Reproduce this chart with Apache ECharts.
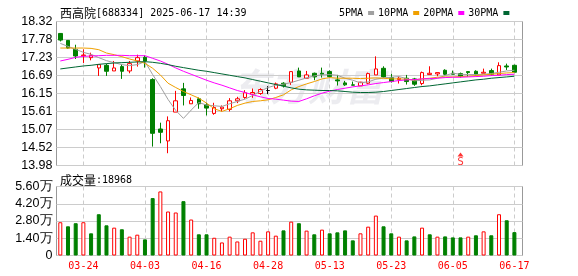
<!DOCTYPE html>
<html><head><meta charset="utf-8">
<script src="https://cdn.jsdelivr.net/npm/echarts@6/dist/echarts.min.js"></script>
<style>html,body{margin:0;padding:0;background:#fff}#c{width:578px;height:276px}</style>
</head><body><div id="c"></div>
<script>
const stockName = '西高院', stockCode = '688334', stamp = '2025-06-17 14:39';
const dates = ['03-19','03-20','03-21','03-24','03-25','03-26','03-27','03-28','03-31','04-01','04-02','04-03',
 '04-07','04-08','04-09','04-10','04-11','04-14','04-15','04-16','04-17','04-18','04-21','04-22','04-23','04-24','04-25','04-28',
 '04-29','04-30','05-06','05-07','05-08','05-09','05-12','05-13','05-14','05-15','05-16','05-19','05-20','05-21','05-22','05-23',
 '05-26','05-27','05-28','05-29','05-30','06-03','06-04','06-05','06-06','06-09','06-10','06-11','06-12','06-13','06-16','06-17'];
const open  = [17.96,17.75,17.48,17.29,17.23,16.92,17.00,16.83,16.96,16.83,17.13,17.24,16.57,15.08,14.72,15.59,16.29,15.84,15.99,15.81,
 15.55,15.69,15.67,15.93,16.03,16.13,16.15,16.24,16.31,16.46,16.49,16.83,16.61,16.76,16.76,16.81,16.56,16.47,16.41,16.38,
 16.46,16.71,16.91,16.63,16.57,16.61,16.59,16.45,16.72,16.74,16.85,16.76,16.75,16.81,16.82,16.76,16.84,16.71,16.98,17.00];
const close = [17.76,17.52,17.28,17.31,17.30,17.02,16.82,16.92,16.82,17.05,17.23,17.13,14.95,14.98,15.33,15.93,16.09,15.94,15.84,15.71,
 15.73,15.74,15.93,15.99,16.17,16.18,16.27,16.24,16.44,16.38,16.81,16.65,16.71,16.65,16.73,16.66,16.53,16.41,16.40,16.49,
 16.75,16.89,16.65,16.51,16.61,16.51,16.43,16.78,16.76,16.78,16.73,16.73,16.67,16.78,16.71,16.79,16.73,16.99,16.95,16.79];
const low   = [17.72,17.50,17.19,17.07,17.15,16.68,16.68,16.83,16.59,16.76,16.96,16.93,14.55,14.65,14.35,15.59,15.79,15.84,15.69,15.49,
 15.51,15.61,15.61,15.86,15.99,16.02,16.11,16.13,16.28,16.33,16.41,16.65,16.61,16.55,16.63,16.63,16.39,16.38,16.39,16.38,
 16.43,16.71,16.63,16.48,16.45,16.42,16.38,16.40,16.72,16.67,16.70,16.73,16.63,16.65,16.69,16.76,16.69,16.71,16.86,16.79];
const high  = [17.97,17.76,17.62,17.48,17.38,17.02,17.05,17.13,17.03,17.13,17.32,17.30,16.61,15.27,15.46,16.23,16.47,16.03,16.03,15.87,
 15.87,15.79,16.01,16.05,16.25,16.30,16.31,16.37,16.48,16.49,16.81,16.93,16.83,16.78,16.93,16.85,16.71,16.53,16.51,16.50,
 16.78,17.27,16.97,16.74,16.66,16.71,16.62,16.81,16.97,16.78,16.88,16.84,16.78,16.81,16.85,16.90,16.90,17.09,17.05,17.02];
const ma5  = [17.66,17.57,17.48,17.39,17.33,17.23,17.14,17.08,17.02,16.99,17.02,17.11,16.72,16.36,15.97,15.64,15.40,15.65,15.88,15.80,
 15.78,15.76,15.84,15.91,15.98,16.09,16.22,16.33,16.40,16.43,16.48,16.55,16.62,16.68,16.71,16.72,16.70,16.61,16.55,16.47,
 16.50,16.58,16.62,16.64,16.66,16.60,16.53,16.55,16.56,16.61,16.69,16.76,16.73,16.72,16.72,16.73,16.75,16.79,16.83,16.85];
const ma10 = [17.52,17.52,17.52,17.52,17.51,17.47,17.37,17.32,17.26,17.19,17.13,17.06,16.91,16.71,16.46,16.33,16.21,16.11,16.01,15.86,
 15.69,15.61,15.69,15.79,15.86,15.91,15.93,15.96,16.03,16.11,16.26,16.36,16.44,16.51,16.59,16.63,16.61,16.61,16.61,16.60,
 16.61,16.62,16.61,16.59,16.59,16.58,16.56,16.59,16.61,16.64,16.65,16.65,16.66,16.67,16.69,16.71,16.73,16.75,16.77,16.78];
const ma20 = [17.13,17.18,17.24,17.27,17.28,17.29,17.30,17.30,17.30,17.29,17.29,17.29,17.21,17.13,17.03,16.92,16.82,16.73,16.64,16.55,
 16.47,16.40,16.32,16.24,16.18,16.11,16.05,16.00,15.98,15.95,15.92,15.91,15.99,16.08,16.16,16.22,16.27,16.31,16.35,16.38,
 16.41,16.45,16.48,16.51,16.54,16.56,16.57,16.59,16.60,16.61,16.63,16.64,16.64,16.65,16.66,16.67,16.69,16.70,16.72,16.73];
const ma30 = [16.89,16.92,16.95,16.98,17.00,17.03,17.05,17.07,17.08,17.09,17.10,17.11,17.09,17.06,17.02,16.97,16.93,16.89,16.85,16.82,
 16.78,16.74,16.70,16.66,16.62,16.57,16.52,16.47,16.42,16.37,16.32,16.28,16.26,16.25,16.24,16.24,16.23,16.21,16.19,16.18,
 16.18,16.19,16.21,16.24,16.27,16.30,16.33,16.36,16.38,16.41,16.44,16.47,16.50,16.53,16.56,16.58,16.61,16.63,16.65,16.67];
const volume = [27000,23700,26200,27000,18000,33500,24500,22600,21300,15300,16900,13100,46600,52000,35700,34900,44100,29200,17200,17200,
 14400,10600,15300,11400,13600,18800,12000,19600,16100,20400,27500,26200,20200,17200,21000,18000,18800,20400,12300,18000,
 23400,32400,23700,18000,15300,12300,15500,22600,17200,15300,15500,14700,14700,15300,16400,19600,16400,33500,28600,18968];
const volUp = [1,0,0,1,0,0,0,1,0,1,1,0,0,1,1,1,0,1,0,0,1,1,1,1,1,1,1,1,1,0,1,0,1,0,1,0,0,0,0,1,1,1,0,0,1,0,0,1,0,1,0,0,0,1,0,1,0,1,0,0];
const maNames = ['5PMA','10PMA','20PMA','30PMA'];
const priceTicks = ['13.98','14.52','15.07','15.61','16.15','16.69','17.23','17.78','18.32'];
const volTicks = ['0','1.40万','2.80万','4.20万','5.60万'];
const xTickDates = ['03-24','04-03','04-16','04-28','05-13','05-23','06-05','06-17'];
const markers = [{date:'06-06', text:'S'}];
const priceMin = 13.98, priceMax = 18.32, volMax = 56000;

const RED = '#ff0000', GREEN = '#008000', GRID = '#cccccc', FRAME = '#999999';
const maColors = ['#a0a0a0', '#f0a000', '#ff00ff', '#006633'];
const priceStep = (priceMax - priceMin) / (priceTicks.length - 1);
const volStep = volMax / (volTicks.length - 1);

const chart = echarts.init(document.getElementById('c'), null, {renderer: 'canvas'});
const candleData = dates.map((d, i) => {
  const it = {value: [open[i], close[i], low[i], high[i]]};
  if (open[i] === close[i]) it.itemStyle = {color: '#000', color0: '#000', borderColor: '#000', borderColor0: '#000'};
  return it;
});
const volData = volume.map((v, i) => ({
  value: v,
  itemStyle: volUp[i] ? {color: '#fff', borderColor: RED, borderWidth: 1} : {color: GREEN, borderColor: GREEN, borderWidth: 1}
}));
const showTick = (i, v) => xTickDates.indexOf(v) >= 0;
const monoFont = 'DejaVu Sans Mono';
const L = 60.3, W = 454.1;
const richTitle = {
  a: {fontFamily: 'Noto Sans CJK SC', fontSize: 12, fontWeight: 'normal', color: '#000'},
  b: {fontFamily: monoFont, fontSize: 10, fontWeight: 'normal', color: '#000'}
};

const option = {
  animation: false,
  backgroundColor: '#fff',
  title: [
    {text: '{a|' + stockName + '}{b|[' + stockCode + '] ' + stamp + '}', left: 55, top: 2,
     textStyle: {fontWeight: 'normal', rich: richTitle}},
    {text: '{a|成交量}{b|:' + volume[volume.length - 1] + '}', left: 55, top: 169,
     textStyle: {fontWeight: 'normal', rich: richTitle}}
  ],
  legend: {
    data: maNames, left: 334, top: 3, align: 'right', icon: 'rect', itemWidth: 6, itemHeight: 4, itemGap: 4,
    textStyle: {fontFamily: monoFont, fontSize: 10, color: '#000'}, selectedMode: false
  },
  graphic: [{type: 'text', left: 232, top: 68, z: 0, silent: true,
    style: {text: '东方财富', font: 'italic bold 38px "Noto Sans CJK SC"', fill: 'rgba(170,170,185,0.22)'}}],
  grid: [
    {left: 56.5, top: 21.5, width: 466, height: 144, show: true, borderColor: FRAME, borderWidth: 1, backgroundColor: 'transparent', outerBoundsMode: 'none'},
    {left: L, top: 21.5, width: W, height: 144, outerBoundsMode: 'none'},
    {left: 56.5, top: 186.5, width: 466, height: 69, show: true, borderColor: FRAME, borderWidth: 1, backgroundColor: 'transparent', outerBoundsMode: 'none'},
    {left: L, top: 186.5, width: W, height: 69, outerBoundsMode: 'none'}
  ],
  xAxis: [
    {gridIndex: 0, type: 'value', show: false, min: 0, max: 1},
    {gridIndex: 1, type: 'category', data: dates, boundaryGap: false, axisLine: {show: false}, axisTick: {show: false},
     axisLabel: {show: false}, splitLine: {show: true, interval: showTick, lineStyle: {color: GRID, type: [4, 3], width: 1}}},
    {gridIndex: 2, type: 'value', show: false, min: 0, max: 1},
    {gridIndex: 3, type: 'category', data: dates, boundaryGap: false, axisLine: {show: false}, axisTick: {show: false},
     axisLabel: {show: true, interval: showTick, color: RED, fontFamily: monoFont, fontSize: 10, margin: 6},
     splitLine: {show: true, interval: showTick, lineStyle: {color: GRID, type: [4, 3], width: 1}}}
  ],
  yAxis: [
    {gridIndex: 0, type: 'value', min: priceMin, max: priceMax, interval: priceStep,
     axisLine: {show: false}, axisTick: {show: false},
     axisLabel: {color: '#000', fontFamily: 'Liberation Sans', fontSize: 12.5, margin: 4,
       formatter: v => priceTicks[Math.round((v - priceMin) / priceStep)] || ''},
     splitLine: {show: true, lineStyle: {color: GRID, width: 1}}},
    {gridIndex: 1, type: 'value', min: priceMin, max: priceMax, show: false, splitLine: {show: false}},
    {gridIndex: 2, type: 'value', min: 0, max: volMax, interval: volStep,
     axisLine: {show: false}, axisTick: {show: false},
     axisLabel: {color: '#000', fontFamily: 'Liberation Sans', fontSize: 12.5, margin: 4,
       formatter: v => volTicks[Math.round(v / volStep)] || ''},
     splitLine: {show: true, lineStyle: {color: GRID, width: 1}}},
    {gridIndex: 3, type: 'value', min: 0, max: volMax, show: false, splitLine: {show: false}}
  ],
  series: [
    {type: 'candlestick', name: 'K', xAxisIndex: 1, yAxisIndex: 1, data: candleData, barWidth: 4, clip: false,
     itemStyle: {color: '#fff', color0: GREEN, borderColor: RED, borderColor0: GREEN, borderWidth: 1}, z: 3},
    ...[ma5, ma10, ma20, ma30].map((arr, k) => ({
      type: 'line', name: maNames[k], xAxisIndex: 1, yAxisIndex: 1, data: arr, symbol: 'none', smooth: false,
      color: maColors[k], itemStyle: {color: maColors[k]}, lineStyle: {color: maColors[k], width: 1}, z: 4, clip: false
    })),
    {type: 'scatter', name: 'mark', xAxisIndex: 1, yAxisIndex: 1, data: markers.map(m => ({value: [m.date, priceMin], label: {formatter: m.text}})),
     symbol: 'triangle', symbolSize: [6, 4], symbolOffset: [0, -11], itemStyle: {color: RED}, clip: false, z: 5,
     label: {show: true, position: 'bottom', distance: 0, color: RED, fontFamily: monoFont, fontSize: 11}},
    {type: 'bar', name: 'vol', xAxisIndex: 3, yAxisIndex: 3, data: volData, barWidth: 4, clip: false, z: 3}
  ]
};
chart.setOption(option);
</script></body></html>
